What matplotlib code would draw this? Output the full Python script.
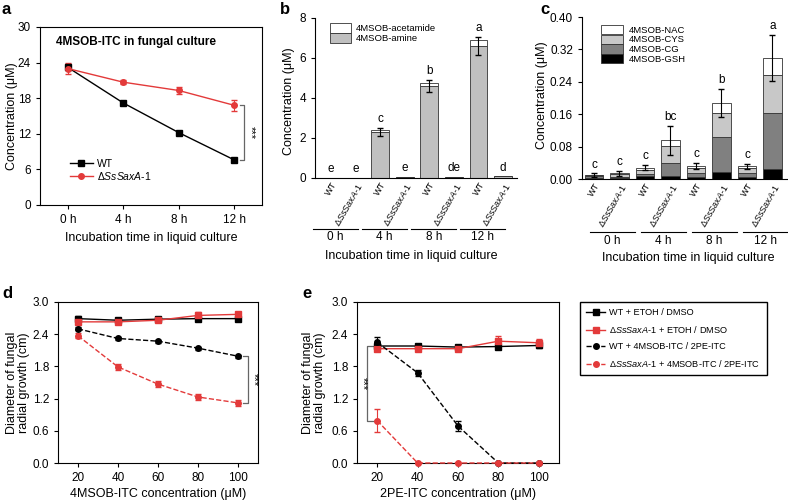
import matplotlib
matplotlib.use('Agg')
import matplotlib.pyplot as plt
import matplotlib.transforms as mtrans
from matplotlib.lines import Line2D

plt.rcParams['font.family'] = ['Liberation Sans', 'DejaVu Sans']
plt.rcParams['mathtext.fontset'] = 'custom'
plt.rcParams['mathtext.rm'] = 'Liberation Sans'
plt.rcParams['mathtext.it'] = 'Liberation Sans:italic'
plt.rcParams['axes.linewidth'] = 0.8
plt.rcParams['xtick.major.width'] = 0.8
plt.rcParams['ytick.major.width'] = 0.8

KO = r'$\Delta\mathit{SsSaxA}$-$\mathit{1}$'
RED = '#e33a3a'

# ---- data ----
times = ['0 h', '4 h', '8 h', '12 h']
strains = ['WT', KO]

# a: 4MSOB-ITC in culture
a_wt = [23.2, 17.2, 12.2, 7.6]
a_wt_err = [0.5, 0.3, 0.3, 0.4]
a_ko = [23.0, 20.7, 19.3, 16.8]
a_ko_err = [1.0, 0.3, 0.6, 0.9]

# b: amine / acetamide (order: WT, KO per time point)
b_amine = [0.0, 0.02, 2.3, 0.04, 4.6, 0.06, 6.6, 0.08]
b_acet = [0.0, 0.0, 0.1, 0.0, 0.15, 0.0, 0.3, 0.0]
b_err = [0.0, 0.0, 0.2, 0.0, 0.3, 0.0, 0.45, 0.0]
b_letters = ['e', 'e', 'c', 'e', 'b', 'de', 'a', 'd']

# c: conjugates
c_gsh = [0.003, 0.002, 0.007, 0.008, 0.005, 0.018, 0.004, 0.025]
c_cg = [0.005, 0.004, 0.006, 0.031, 0.010, 0.085, 0.012, 0.137]
c_cys = [0.002, 0.007, 0.009, 0.042, 0.011, 0.060, 0.010, 0.096]
c_nac = [0.0, 0.001, 0.006, 0.015, 0.006, 0.025, 0.005, 0.041]
c_err = [0.004, 0.006, 0.007, 0.036, 0.008, 0.034, 0.007, 0.056]
c_letters = ['c', 'c', 'c', 'bc', 'c', 'b', 'c', 'a']

# d/e: radial growth
conc = [20, 40, 60, 80, 100]
d_wt_ctrl = [2.69, 2.66, 2.68, 2.69, 2.69]
d_ko_ctrl = [2.63, 2.63, 2.66, 2.75, 2.77]
d_wt_itc = [2.50, 2.32, 2.27, 2.14, 1.99]
d_ko_itc = [2.37, 1.79, 1.47, 1.23, 1.12]
d_err = [[0.04] * 5, [0.04, 0.04, 0.04, 0.06, 0.05], [0.03] * 5, [0.05] * 5]

e_wt_ctrl = [2.18, 2.18, 2.16, 2.17, 2.19]
e_ko_ctrl = [2.13, 2.13, 2.13, 2.27, 2.24]
e_wt_itc = [2.25, 1.68, 0.69, 0.0, 0.0]
e_ko_itc = [0.79, 0.0, 0.0, 0.0, 0.0]
e_err = [[0.04] * 5, [0.03, 0.03, 0.03, 0.10, 0.07], [0.10, 0.05, 0.10, 0, 0], [0.22, 0, 0, 0, 0]]

series_labels = ['WT + ETOH / DMSO', KO + ' + ETOH / DMSO',
                 'WT + 4MSOB-ITC / 2PE-ITC', KO + ' + 4MSOB-ITC / 2PE-ITC']
series_styles = [('black', '-', 's'), (RED, '-', 's'), ('black', '--', 'o'), (RED, '--', 'o')]

fig = plt.figure(figsize=(7.88, 5.0), dpi=100)
W, H = 788, 500


def box(x0, y0, x1, y1):
    return [x0 / W, 1 - y1 / H, (x1 - x0) / W, (y1 - y0) / H]


def bracket(ax, x, y0, y1, dx, color='#666666'):
    ax.plot([x - dx, x, x, x - dx], [y0, y0, y1, y1], color=color, lw=0.9, clip_on=False)


# ---- panel a ----
ax = fig.add_axes(box(40, 27, 262, 205))
xa = range(len(times))
ax.errorbar(xa, a_wt, yerr=a_wt_err, color='black', marker='s', ms=4, lw=1, capsize=2.5, elinewidth=0.8)
ax.errorbar(xa, a_ko, yerr=a_ko_err, color=RED, marker='o', ms=4, lw=1, capsize=2.5, elinewidth=0.8)
ax.set_xlim(-0.5, 3.5)
ax.set_ylim(0, 30)
ax.set_yticks(range(0, 31, 6))
ax.set_xticks(list(xa))
ax.set_xticklabels(times)
ax.tick_params(labelsize=8.5, direction='out', length=3)
ax.set_ylabel('Concentration (μM)', fontsize=9)
ax.yaxis.set_label_coords(-0.1, 0.5)
ax.set_xlabel('Incubation time in liquid culture', fontsize=9, labelpad=4)
ax.text(0.07, 0.9, '4MSOB-ITC in fungal culture', transform=ax.transAxes, fontsize=8.5, fontweight='bold')
a_handles = [Line2D([], [], color='black', marker='s', ms=4, lw=1),
             Line2D([], [], color=RED, marker='o', ms=4, lw=1)]
ax.legend(a_handles, ['WT', KO], loc='lower left', bbox_to_anchor=(0.11, 0.1), frameon=False, fontsize=7.5,
          handlelength=2.2, labelspacing=0.1, borderpad=0, handletextpad=0.4)
bracket(ax, 3.18, a_ko[-1], a_wt[-1], 0.07)
ax.text(3.3, (a_ko[-1] + a_wt[-1]) / 2, '***', rotation=-90, ha='center', va='center', fontsize=8)
fig.text(2 / W, 1 - 9 / H, 'a', fontsize=12, fontweight='bold', va='center')


def bar_panel(ax, xs, ymax, yticks, fmt):
    ax.set_xlim(xs[0] - 0.65, xs[-1] + 0.57)
    ax.set_ylim(0, ymax)
    ax.set_yticks(yticks)
    ax.set_yticklabels([fmt.format(v) for v in yticks])
    ax.spines['top'].set_visible(False)
    ax.spines['right'].set_visible(False)
    ax.tick_params(axis='y', labelsize=8.5, direction='out', length=3)
    ax.set_xticks(xs)
    ax.set_xticklabels(strains * len(times))
    ax.tick_params(axis='x', length=0, pad=2)
    for lab in ax.get_xticklabels():
        lab.set_rotation(60)
        lab.set_ha('right')
        lab.set_va('top')
        lab.set_rotation_mode('anchor')
        lab.set_fontsize(6.5)


# ---- panel b ----
ax = fig.add_axes(box(315, 18, 517, 178))
xb = list(range(len(b_amine)))
bw = 0.72
ax.bar(xb, b_amine, width=bw, color='#c0c0c0', edgecolor='#333333', lw=0.6, label='4MSOB-amine')
ax.bar(xb, b_acet, width=bw, bottom=b_amine, color='white', edgecolor='#333333', lw=0.6, label='4MSOB-acetamide')
for x, y, e, t, top in zip(xb, b_amine, b_err, b_letters, [a + b for a, b in zip(b_amine, b_acet)]):
    if e > 0:
        ax.errorbar(x, y, yerr=e, color='black', capsize=2.5, elinewidth=0.8, lw=0)
    ax.annotate(t, (x, max(top, y + e)), xytext=(0, 2), textcoords='offset points',
                ha='center', va='bottom', fontsize=8.5)
bar_panel(ax, xb, 8, [0, 2, 4, 6, 8], '{:g}')
ax.set_ylabel('Concentration (μM)', fontsize=9)
ax.yaxis.set_label_coords(-0.1, 0.48)
h, l = ax.get_legend_handles_labels()
ax.legend(h[::-1], l[::-1], loc='upper left', bbox_to_anchor=(0.05, 1.0), frameon=False, fontsize=6.8,
          handlelength=2.2, handleheight=1.3, labelspacing=0, borderpad=0, handletextpad=0.5)
tr = mtrans.blended_transform_factory(ax.transData, ax.transAxes)
for i, t in enumerate(times):
    c = 0.18 + 2 * i
    ax.plot([c - 0.92, c + 0.92], [-0.32, -0.32], color='black', lw=0.8, transform=tr, clip_on=False)
    ax.text(c, -0.37, t, transform=tr, ha='center', va='center', fontsize=8.5)
ax.text(0.475, -0.49, 'Incubation time in liquid culture', transform=ax.transAxes, ha='center', va='center', fontsize=9)
fig.text(280 / W, 1 - 9 / H, 'b', fontsize=12, fontweight='bold', va='center')

# ---- panel c ----
ax = fig.add_axes(box(582, 17, 787, 179))
xc = list(range(len(c_gsh)))
bottom = [0.0] * len(xc)
for vals, col, lab in [(c_gsh, 'black', '4MSOB-GSH'), (c_cg, '#808080', '4MSOB-CG'),
                       (c_cys, '#c8c8c8', '4MSOB-CYS'), (c_nac, 'white', '4MSOB-NAC')]:
    ax.bar(xc, vals, width=bw, bottom=bottom, color=col, edgecolor='#333333', lw=0.6, label=lab)
    bottom = [b + v for b, v in zip(bottom, vals)]
ax.errorbar(xc, bottom, yerr=c_err, fmt='none', ecolor='black', capsize=2.5, elinewidth=0.8)
for x, top, e, t in zip(xc, bottom, c_err, c_letters):
    ax.annotate(t, (x, top + e), xytext=(0, 2), textcoords='offset points', ha='center', va='bottom', fontsize=8.5)
bar_panel(ax, xc, 0.40, [0, 0.08, 0.16, 0.24, 0.32, 0.40], '{:.2f}')
ax.set_xlim(-0.47, 7.57)
ax.set_ylabel('Concentration (μM)', fontsize=9)
ax.yaxis.set_label_coords(-0.165, 0.52)
h, l = ax.get_legend_handles_labels()
ax.legend(h[::-1], l[::-1], loc='upper left', bbox_to_anchor=(0.07, 0.98), frameon=False, fontsize=6.8,
          handlelength=2.3, handleheight=1.1, labelspacing=0, borderpad=0, handletextpad=0.6)
tr = mtrans.blended_transform_factory(ax.transData, ax.transAxes)
for i, t in enumerate(times):
    c = 0.72 + 2 * i
    ax.plot([c - 0.88, c + 0.88], [-0.327, -0.327], color='black', lw=0.8, transform=tr, clip_on=False)
    ax.text(c, -0.38, t, transform=tr, ha='center', va='center', fontsize=8.5)
ax.text(0.517, -0.49, 'Incubation time in liquid culture', transform=ax.transAxes, ha='center', va='center', fontsize=9)
fig.text(540 / W, 1 - 9 / H, 'c', fontsize=12, fontweight='bold', va='center')


def growth_panel(ax, series, errs, xlabel):
    for ys, es, (col, ls, mk) in zip(series, errs, series_styles):
        ax.errorbar(conc, ys, yerr=es, color=col, ls=ls, marker=mk, ms=4, lw=1,
                    capsize=2, elinewidth=0.8, clip_on=False, zorder=3)
    ax.set_xlim(10, 110)
    ax.set_ylim(0, 3.0)
    ax.set_xticks(conc)
    ax.set_yticks([0, 0.6, 1.2, 1.8, 2.4, 3.0])
    ax.set_yticklabels(['{:.1f}'.format(v) for v in [0, 0.6, 1.2, 1.8, 2.4, 3.0]])
    ax.tick_params(labelsize=8.5, direction='out', length=3)
    ax.set_xlabel(xlabel, fontsize=9, labelpad=3)
    ax.set_ylabel('Diameter of fungal\nradial growth (cm)', fontsize=9, linespacing=1.0)


# ---- panel d ----
ax = fig.add_axes(box(58, 302, 258, 463))
growth_panel(ax, [d_wt_ctrl, d_ko_ctrl, d_wt_itc, d_ko_itc], d_err, '4MSOB-ITC concentration (μM)')
ax.yaxis.set_label_coords(-0.14, 0.5)
bracket(ax, 105, d_wt_itc[-1], d_ko_itc[-1], 2.5)
ax.text(108, (d_wt_itc[-1] + d_ko_itc[-1]) / 2, '***', rotation=-90, ha='center', va='center', fontsize=8)
fig.text(2 / W, 1 - 293 / H, 'd', fontsize=12, fontweight='bold', va='center')

# ---- panel e ----
ax = fig.add_axes(box(357, 302, 559, 463))
growth_panel(ax, [e_wt_ctrl, e_ko_ctrl, e_wt_itc, e_ko_itc], e_err, '2PE-ITC concentration (μM)')
ax.yaxis.set_label_coords(-0.155, 0.5)
bracket(ax, 15, e_wt_ctrl[0], e_ko_itc[0], -3.5)
ax.text(13, (e_wt_ctrl[0] + e_ko_itc[0]) / 2, '***', rotation=-90, ha='center', va='center', fontsize=8)
fig.text(302 / W, 1 - 293 / H, 'e', fontsize=12, fontweight='bold', va='center')

e_handles = [Line2D([], [], color=col, ls=ls, marker=mk, ms=4, lw=1) for col, ls, mk in series_styles]
fig.legend(e_handles, series_labels, loc='upper left', bbox_to_anchor=(580 / W, 1 - 302 / H), fontsize=6.6,
           frameon=True, fancybox=False, edgecolor='black', framealpha=1, handlelength=2.0, labelspacing=0.75,
           borderpad=0.7, borderaxespad=0, handletextpad=0.5)

fig.savefig('out.png', dpi=100)
